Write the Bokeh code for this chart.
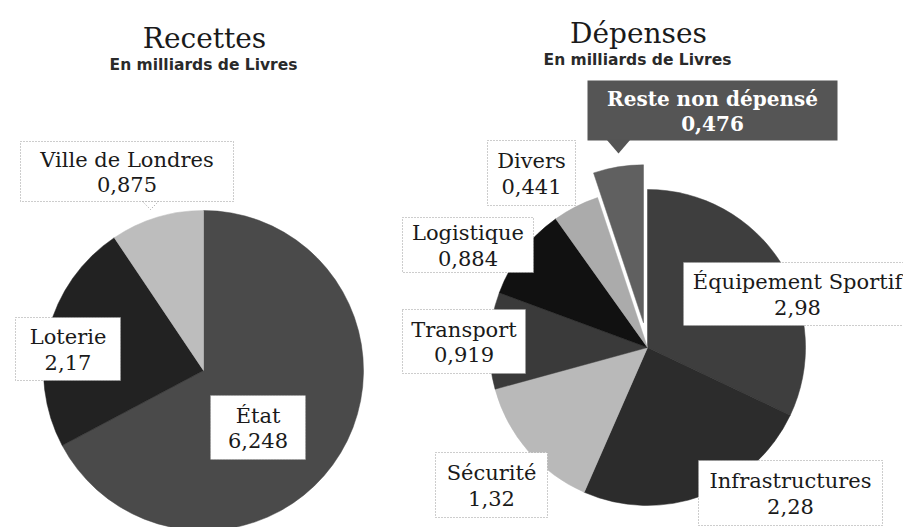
import math
from bokeh.plotting import figure
from bokeh.models import Range1d, ColumnDataSource
from bokeh.core.properties import value
from bokeh.embed import file_html
from bokeh.resources import INLINE

# ---------------- data ----------------
rec_title = "Recettes"
dep_title = "Dépenses"
subtitle = "En milliards de Livres"

rec_labels = ["État", "Loterie", "Ville de Londres"]
rec_values = [6.248, 2.17, 0.875]

dep_labels = ["Équipement Sportif", "Infrastructures", "Sécurité", "Transport",
              "Logistique", "Divers", "Reste non dépensé"]
dep_values = [2.98, 2.28, 1.32, 0.919, 0.884, 0.441, 0.476]

# ---------------- styling / layout ----------------
rec_colors = ["#4a4a4a", "#222222", "#bdbdbd"]
dep_colors = ["#3e3e3e", "#2c2c2c", "#b9b9b9", "#3a3a3a", "#111111", "#ababab", "#606060"]
dep_explode = [0, 0, 0, 0, 0, 0, 25]

# label boxes in page pixels: (left, top, right, bottom)
rec_boxes = [(210, 395, 305, 459), (15, 317, 120, 380), (20, 141, 233, 201)]
dep_boxes = [(683, 262, 912, 325), (698, 460, 882, 525), (435, 452, 547, 517),
             (402, 309, 525, 373), (402, 217, 533, 272), (487, 140, 575, 205),
             (587, 80, 837, 140)]
dep_text_x = [797, None, None, None, None, None, None]

W, H = 903, 527


def X(x):
    return x


def Y(y):
    return H - y


def fmt(v):
    return str(v).replace(".", ",")


p = figure(width=W, height=H, x_range=Range1d(0, W), y_range=Range1d(0, H),
           output_backend="svg", toolbar_location=None, min_border=0)
p.axis.visible = False
p.grid.visible = False
p.outline_line_color = None
p.background_fill_color = "white"
p.border_fill_color = "white"


def draw_pie(values, colors, cx, cy, r, explode=None):
    total = sum(values)
    xs, ys, st, en = [], [], [], []
    cum = 0.0
    for i, v in enumerate(values):
        a0 = math.pi / 2 - 2 * math.pi * (cum + v) / total
        a1 = math.pi / 2 - 2 * math.pi * cum / total
        cum += v
        off = explode[i] if explode else 0
        mid = (a0 + a1) / 2
        xs.append(X(cx) + off * math.cos(mid))
        ys.append(Y(cy) + off * math.sin(mid))
        st.append(a0)
        en.append(a1)
    src = ColumnDataSource(dict(x=xs, y=ys, s=st, e=en, c=colors))
    p.wedge(x="x", y="y", radius=r, start_angle="s", end_angle="e",
            fill_color="c", line_color="c", line_width=0.5, source=src)


draw_pie(rec_values, rec_colors, 203, 370, 160)
draw_pie(dep_values, dep_colors, 647, 347, 158, dep_explode)

LABEL_FONT = value("DejaVu Serif")


def draw_labels(labels, values, boxes, dark_last=False, text_x=None):
    n = len(labels)
    for i in range(n):
        l, t, r_, b = boxes[i]
        dark = dark_last and i == n - 1
        p.quad(left=[X(l)], right=[X(r_)], top=[Y(t)], bottom=[Y(b)],
               fill_color="#555555" if dark else "white",
               line_color=None if dark else "#9a9a9a",
               line_dash="1 2", line_width=1)
        cx = (l + r_) / 2
        if text_x and text_x[i]:
            cx = text_x[i]
        cy = (t + b) / 2
        col = "white" if dark else "#1a1a1a"
        p.text(x=[X(cx), X(cx)], y=[Y(cy - 12), Y(cy + 13)],
               text=[labels[i], fmt(values[i])],
               text_font=LABEL_FONT, text_font_size="20px" if dark else "21px",
               text_font_style="bold" if dark else "normal",
               text_color=col, text_align="center", text_baseline="middle")


draw_labels(rec_labels, rec_values, rec_boxes)
draw_labels(dep_labels, dep_values, dep_boxes, dark_last=True, text_x=dep_text_x)

# pointer of the dark "Reste" box
p.patch(x=[X(606), X(630), X(618)], y=[Y(139), Y(139), Y(153)],
        fill_color="#555555", line_color=None)
# small dotted pointer below "Ville de Londres"
p.patch(x=[X(142), X(158), X(150)], y=[Y(201), Y(201), Y(209)],
        fill_color="white", line_color="#9a9a9a", line_dash="1 2")

# titles
p.text(x=[X(204), X(638)], y=[Y(38), Y(33)], text=[rec_title, dep_title],
       text_font=LABEL_FONT, text_font_size="28px", text_color="#1a1a1a",
       text_align="center", text_baseline="alphabetic")
p.text(x=[X(203), X(637)], y=[Y(64), Y(59)], text=[subtitle, subtitle],
       text_font=value("DejaVu Sans"), text_font_size="15.5px", text_font_style="bold",
       text_color="#2a2a2a", text_align="center", text_baseline="alphabetic")

open("out.html", "w").write(file_html(p, INLINE))
